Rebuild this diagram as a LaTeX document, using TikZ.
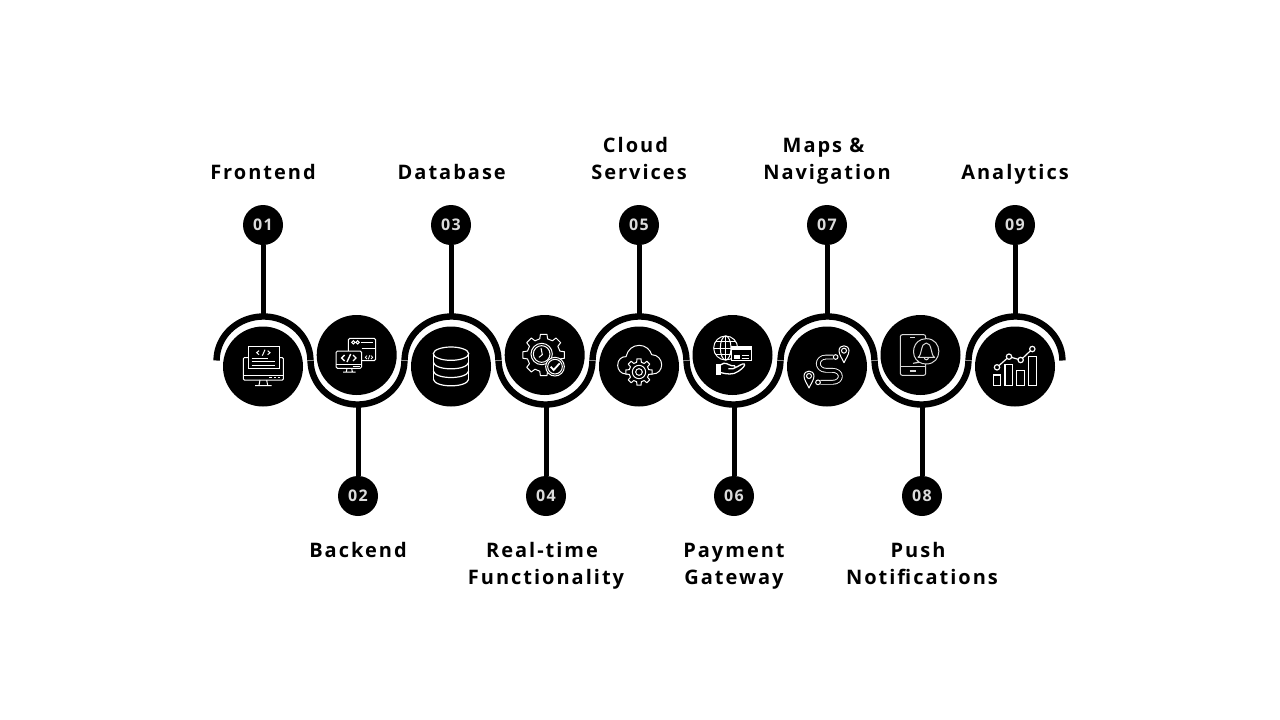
\documentclass[tikz,border=0pt]{standalone}
\usepackage{fontspec}
\setmainfont{Open Sans}
\newfontface\labelfont[LetterSpace=10]{Open Sans Bold}
\newfontface\numfont[LetterSpace=8]{Open Sans Bold}
\newcommand\badgenum[1]{\raisebox{-.7pt}{#1}}
\tikzset{
  hub/.style={circle,fill=black,minimum size=80pt,inner sep=0pt},
  badge/.style={circle,fill=black,minimum size=40pt,inner sep=0pt,text=white!86!black,font=\numfont\fontsize{16}{16}\selectfont},
  title/.style={align=center,anchor=base,inner sep=0pt,text=black,font=\labelfont\fontsize{20}{27}\selectfont},
  stem/.style={line width=5pt,black},
  band/.style={line width=6.4pt,black},
  seam/.style={line width=1pt,black!45},
  icon/.style={draw=white,line width=1pt},
  iconbox/.style={x=.33333pt,y=-.33333pt}
}
\newcommand\gearshape[5]{%
  \draw[icon,fill=black,line join=round,shift={(#1,#2)}] ({108/#5}:#4)
    \foreach \i [evaluate=\i as \a using \i*360/#5] in {1,...,#5}{
      -- ({\a-108/#5}:#4) -- ({\a-72/#5}:#3) -- ({\a+72/#5}:#3) -- ({\a+108/#5}:#4)
    } -- cycle;}
\newcommand\pinshape[3]{%
  \draw[icon,fill=black,line join=round] (#1-#3,#2) .. controls (#1-#3,#2-1.3*#3) and (#1+#3,#2-1.3*#3) .. (#1+#3,#2)
    .. controls (#1+#3,#2+.8*#3) and (#1+.3*#3,#2+1.7*#3) .. (#1,#2+2.4*#3)
    .. controls (#1-.3*#3,#2+1.7*#3) and (#1-#3,#2+.8*#3) .. cycle;
  \draw[icon] (#1,#2) circle (#3*.5);}
\begin{document}
\begin{tikzpicture}[x=1pt,y=-1pt]
\useasboundingbox (0,0) rectangle (1280,720);
% wave
\foreach \c/\s in {263.5/1,357.5/-1,451.5/1,545.5/-1,639.5/1,733.5/-1,827.5/1,921.5/-1,1015.5/1}{
  \draw[band] plot[domain=0:180,samples=61,smooth] ({\c+46.9*cos(\x)},{360.5-\s*44*sin(\x)});
}
\foreach \x in {310.5,404.5,498.5,592.5,686.5,780.5,874.5,968.5}{
  \draw[seam] (\x-3.5,360.5) -- (\x+3.5,360.5);
}
% anchors on the wave
\foreach \n/\x/\y in {a/263.5/316,b/357.5/405,c/451.5/316,d/545.5/405,e/639.5/316,f/733.5/405,g/827.5/316,h/921.5/405,i/1015.5/316}{
  \coordinate (w\n) at (\x,\y);
}
% badges
\node[badge] (ba) at (263,225) {\badgenum{01}};
\node[badge] (bb) at (358,496) {\badgenum{02}};
\node[badge] (bc) at (451,225) {\badgenum{03}};
\node[badge] (bd) at (546,496) {\badgenum{04}};
\node[badge] (be) at (639,225) {\badgenum{05}};
\node[badge] (bf) at (734,496) {\badgenum{06}};
\node[badge] (bg) at (827,225) {\badgenum{07}};
\node[badge] (bh) at (922,496) {\badgenum{08}};
\node[badge] (bi) at (1015,225) {\badgenum{09}};
\foreach \n in {a,b,c,d,e,f,g,h,i}{
  \draw[stem] (b\n) -- (b\n |- w\n);
}
% hubs
\node[hub] (ha) at (263,366.5) {};
\node[hub] (hb) at (356.7,355) {};
\node[hub] (hc) at (451,366.5) {};
\node[hub] (hd) at (544.7,355) {};
\node[hub] (he) at (639,366.5) {};
\node[hub] (hf) at (732.5,355) {};
\node[hub] (hg) at (827,366.5) {};
\node[hub] (hh) at (920.5,355) {};
\node[hub] (hi) at (1015,366.5) {};
% titles
\node[title] (ta) at (263,179) {Frontend};
\node[title] (tb) at (358,557) {Backend};
\node[title] (tc) at (451.7,179) {Database};
\node[title] (td) at (546,584) {Real-time\hspace*{8pt}\\Functionality};
\node[title] (te) at (639,179) {Cloud\hspace*{7pt}\\Services};
\node[title] (tf) at (734,584) {Payment\\Gateway};
\node[title] (tg) at (827,179) {Maps \&\hspace*{7pt}\\Navigation};
\node[title] (th) at (922,584) {Push\hspace*{8pt}\\Notifications};
\node[title] (ti) at (1015,179) {Analytics};
% icon 1
\begin{scope}[shift={(235,335)},iconbox]
  \draw[icon,rounded corners=1pt] (25,68) rectangle (145,135);
  \draw[icon] (25,120) -- (145,120);
  \draw[white,line width=1pt] (103,128) -- (112,128) (117,128) -- (124,128) (128,128) -- (134,128);
  \draw[icon,fill=black] (40,33) rectangle (132,100);
  \draw[icon] (72,47) -- (65,53) -- (72,59) (98,47) -- (105,53) -- (98,59) (90,44) -- (82,62);
  \draw[icon] (50,70) -- (100,70) (50,80) -- (120,80) (50,92) -- (120,92);
  \draw[icon] (75,135) -- (72,151) (95,135) -- (98,151) (60,152) -- (110,152);
\end{scope}
% icon 2
\begin{scope}[shift={(328,328)},iconbox]
  \draw[icon,rounded corners=1.5pt] (61,31) rectangle (143,98);
  \draw[icon] (76,43) circle (5) (89,43) circle (5);
  \draw[icon] (100,43) -- (135,43) (101,60) -- (143,60);
  \draw[icon,fill=black,rounded corners=1.5pt] (24,69) rectangle (101,121);
  \draw[white,line width=1.4pt] (50,81) -- (41,90) -- (50,99) (75,81) -- (84,90) -- (75,99) (68,78) -- (57,102);
  \draw[icon] (24,109) -- (101,109);
  \draw[white,line width=1pt] (74,115) -- (97,115);
  \draw[white,line width=.8pt] (117,83) -- (112,88) -- (117,93) (129,83) -- (134,88) -- (129,93) (125,82) -- (121,94);
  \draw[icon] (57,121) -- (55,131) (71,121) -- (73,131) (45,132) -- (83,132);
\end{scope}
% icon 3
\begin{scope}[shift={(400,300)},iconbox]
  \draw[icon,line width=1.2pt] (153,161) ellipse (53 and 20);
  \draw[icon,line width=1.2pt] (100,161) -- (100,240) (206,161) -- (206,240);
  \foreach \y in {187,213,238}{
    \draw[icon,line width=1.2pt] (100,\y) .. controls (105,{\y+26}) and (201,{\y+26}) .. (206,\y);
  }
\end{scope}
% icon 4
\begin{scope}[shift={(517,328)},iconbox]
  \gearshape{80}{81}{63}{50}{8}
  \draw[icon] (74,78) circle (32);
  \draw[icon] (74,78) circle (25);
  \draw[icon] (72,60) -- (76,80) -- (66,88);
  \draw[icon,fill=black] (114,116) circle (28);
  \draw[icon] (114,116) circle (22);
  \draw[white,line width=1.8pt] (101,116) -- (110,126) -- (128,106);
\end{scope}
% icon 5
\begin{scope}[shift={(611,338)},iconbox]
  \draw[icon,line join=round] (58,108) -- (45,108) .. controls (30,108) and (20,95) .. (20,82)
     .. controls (20,65) and (32,55) .. (45,56) .. controls (50,35) and (65,22) .. (85,22)
     .. controls (103,22) and (118,35) .. (122,50) .. controls (140,50) and (152,65) .. (152,80)
     .. controls (152,95) and (142,108) .. (125,108) -- (112,108);
  \gearshape{84}{102}{40}{30}{8}
  \draw[icon] (84,102) circle (20);
  \draw[icon] (84,102) circle (10);
\end{scope}
% icon 6
\begin{scope}[shift={(705,328)},iconbox]
  \draw[icon] (62,60) circle (36);
  \draw[icon] (62,60) ellipse (16 and 36);
  \draw[icon] (62,24) -- (62,96) (26,60) -- (98,60) (32,40) -- (92,40) (32,80) -- (92,80);
  \draw[icon,fill=black,line width=1.2pt] (80,55) rectangle (140,97);
  \fill[white] (80,55) rectangle (140,66);
  \fill[white] (87,80) rectangle (105,92);
  \draw[white,line width=.8pt] (110,82) -- (133,82) (110,90) -- (133,90);
  \fill[white] (33,108) rectangle (48,140);
  \draw[white,line width=1.3pt,line join=round] (48,110) .. controls (60,100) and (68,110) .. (80,113) -- (88,113) .. controls (95,115) and (92,123) .. (84,122) -- (70,122) (88,120) .. controls (100,116) and (112,105) .. (118,108) .. controls (122,112) and (112,122) .. (100,130) .. controls (84,142) and (64,138) .. (48,134);
\end{scope}
% icon 7
\begin{scope}[shift={(799,338)},iconbox]
  \pinshape{135}{38}{15}
  \pinshape{30}{114}{15}
  \draw[white,line width=.9pt,double=black,double distance=3pt,line join=round]
    (103,57) -- (82,57) .. controls (50,57) and (50,97) .. (82,97) -- (100,97)
    .. controls (132,97) and (132,133) .. (100,133) -- (64,133);
  \draw[icon,fill=black] (110,57) circle (7);
  \draw[icon,fill=black] (57,133) circle (7);
\end{scope}
% icon 8
\begin{scope}[shift={(893,328)},iconbox]
  \draw[icon,rounded corners=2pt,draw=white!85!black] (22,20) rectangle (98,142);
  \draw[icon,draw=white!85!black] (22,115) -- (98,115);
  \draw[white!85!black,line width=1pt] (52,29) -- (66,29);
  \draw[white!85!black,line width=1.6pt] (50,129) -- (68,129);
  \draw[icon,fill=black,draw=white!85!black] (78,102) .. controls (50,85) and (58,32) .. (100,32)
     .. controls (150,32) and (150,108) .. (100,108) .. controls (90,108) and (85,106) .. (80,103) -- (60,106) -- cycle;
  \draw[icon,draw=white!85!black,line join=round] (75,88) .. controls (88,82) and (82,45) .. (100,45)
     .. controls (118,45) and (112,82) .. (125,88) -- cycle;
  \draw[icon,draw=white!85!black] (93,88) .. controls (95,98) and (105,98) .. (107,88);
\end{scope}
% icon 9
\begin{scope}[shift={(870,300)},iconbox]
  \draw[icon,line width=1.2pt] (370,225) rectangle (392,257);
  \draw[icon,line width=1.2pt] (405,193) rectangle (428,257);
  \draw[icon,line width=1.2pt] (440,212) rectangle (463,257);
  \draw[icon,line width=1.2pt] (476,170) rectangle (500,257);
  \draw[icon,line width=1.2pt] (381,202) -- (417,170) -- (452,180) -- (487,147);
  \foreach \x/\y in {381/202,417/170,452/180,487/147}{
    \draw[icon,fill=black,line width=1.2pt] (\x,\y) circle (8);
  }
\end{scope}
\end{tikzpicture}
\end{document}
